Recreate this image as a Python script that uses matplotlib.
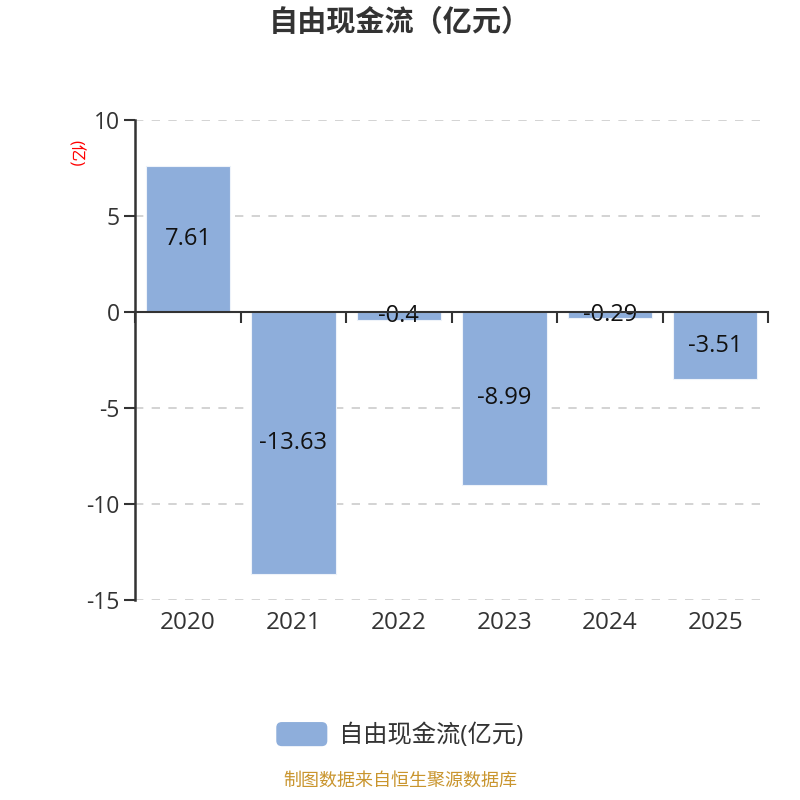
import numpy as np
import matplotlib
matplotlib.use("Agg")
import matplotlib.pyplot as plt
from matplotlib.patches import FancyBboxPatch
from matplotlib.legend_handler import HandlerPatch
from matplotlib.transforms import blended_transform_factory

plt.rcParams['font.family'] = ['Open Sans', 'Noto Sans CJK SC', 'DejaVu Sans']

years = ['2020', '2021', '2022', '2023', '2024', '2025']
values = [7.61, -13.63, -0.4, -8.99, -0.29, -3.51]
labels = ['7.61', '-13.63', '-0.4', '-8.99', '-0.29', '-3.51']
yticks = [10, 5, 0, -5, -10, -15]

bar_color = '#8eaedb'
axis_color = '#333333'


class RoundHandler(HandlerPatch):
    def create_artists(self, legend, orig_handle, xdescent, ydescent,
                       width, height, fontsize, trans):
        p = FancyBboxPatch((-xdescent, -ydescent), width, height,
                           boxstyle='round,pad=0,rounding_size=4',
                           facecolor=bar_color, edgecolor='none', transform=trans)
        return [p]


fig = plt.figure(figsize=(8, 8), dpi=100)
ax = fig.add_axes([0.169, 0.25, 0.791, 0.60])

x = np.arange(len(years))
ax.bar(x, values, width=0.8, color=bar_color, edgecolor='#eef3fa', linewidth=0.8, zorder=2)

for xi, v, lab in zip(x, values, labels):
    ax.text(xi, v / 2, lab, ha='center', va='center', fontsize=17, color='#111111', zorder=3)

ax.set_xlim(-0.5, len(years) - 0.5)
ax.set_ylim(-15, 10)
ax.set_yticks(yticks)
ax.set_yticklabels([str(t) for t in yticks])
ax.tick_params(axis='y', length=8, width=1.5, color=axis_color, labelsize=16.5,
               labelcolor='#333333', pad=3)
ax.yaxis.grid(True, linestyle=(0, (5, 5)), color='#cccccc', linewidth=1.2, zorder=0)
ax.set_axisbelow(True)

for s in ['top', 'right']:
    ax.spines[s].set_visible(False)
ax.spines['left'].set_color(axis_color)
ax.spines['left'].set_linewidth(1.8)
ax.spines['bottom'].set_position(('data', 0))
ax.spines['bottom'].set_color(axis_color)
ax.spines['bottom'].set_linewidth(1.5)
ax.spines['bottom'].set_zorder(4)

ax.set_xticks(np.arange(len(years) + 1) - 0.5)
ax.set_xticklabels([])
ax.tick_params(axis='x', length=8, width=1.5, color=axis_color, direction='out')

trans = blended_transform_factory(ax.transData, ax.transAxes)
for xi, yr in zip(x, years):
    ax.text(xi, -0.047, yr, transform=trans, ha='center', va='center',
            fontsize=17.5, color='#333333')

ax.text(-0.095, 0.93, '(亿)', transform=ax.transAxes, rotation=-90,
        ha='center', va='center', fontsize=12, color='red')

fig.text(0.5, 0.971, '自由现金流（亿元）', ha='center', va='center',
         fontsize=21, fontweight='bold', color='#333333')

handle = plt.Rectangle((0, 0), 1, 1, color=bar_color)
fig.legend([handle], ['自由现金流(亿元)'], loc='center', bbox_to_anchor=(0.5, 0.081),
           frameon=False, fontsize=17.5, handlelength=2.1, handleheight=1.15,
           handletextpad=0.5, labelcolor='#333333',
           handler_map={plt.Rectangle: RoundHandler()})

fig.text(0.5, 0.024, '制图数据来自恒生聚源数据库', ha='center', va='center',
         fontsize=13, color='#c9952e')

fig.savefig('out.png', dpi=100)
